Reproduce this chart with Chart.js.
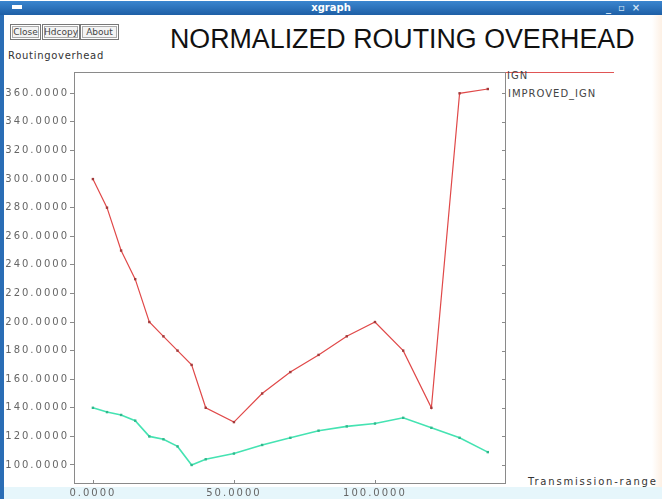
<!DOCTYPE html>
<html>
<head>
<meta charset="utf-8">
<script src="https://cdn.jsdelivr.net/npm/chart.js@4/dist/chart.umd.min.js"></script>
<style>
  html,body{margin:0;padding:0;background:#fff;width:662px;height:499px;overflow:hidden;font-family:"DejaVu Sans",sans-serif;}
  #wrap{position:relative;width:662px;height:499px;}
  .abs{position:absolute;}
  #titlebar{left:0;top:1px;width:662px;height:14px;background:linear-gradient(#3b86cf,#1e5fa6);}
  #tbtext{left:0;top:1px;width:662px;text-align:center;color:#fff;font:bold 10px "DejaVu Sans";line-height:14px;}
  #leftborder{left:0;top:15px;width:4px;height:484px;background:#2a6db5;}
  #rightedge{left:652px;top:15px;width:10px;height:484px;background:linear-gradient(90deg,#fff,#fdf0e4);}
  #bottomband{left:4px;top:487px;width:658px;height:12px;background:#e6f6fb;}
  .btn{top:24px;height:14px;border:1px solid #777;box-shadow:inset 0 0 0 1px #fff,inset 0 0 0 2px #aaa;background:#f4f4f4;font:9px "DejaVu Sans";line-height:14px;color:#444;text-align:center;}
  #title{left:170px;top:24px;font:26.8px "Liberation Sans",Arial,sans-serif;color:#111;white-space:nowrap;line-height:30px;}
  #ylab{left:8px;top:50px;font:10px "DejaVu Sans";letter-spacing:0.7px;color:#333;white-space:nowrap;}
  #xlab{left:528px;top:476px;font:10px "DejaVu Sans";letter-spacing:1.8px;color:#333;white-space:nowrap;}
  .leg{font:10px "DejaVu Sans";letter-spacing:1px;color:#444;white-space:nowrap;}
  canvas{position:absolute;left:0;top:0;}
</style>
</head>
<body>
<div id="wrap">
  <div class="abs" id="titlebar"></div>
  <div class="abs" style="left:12px;top:5px;width:10px;height:4px;background:#fff;"></div>
  <div class="abs" id="tbtext">xgraph</div>
  <div class="abs" style="left:606px;top:1px;color:#cfe3f5;font:bold 10px 'DejaVu Sans';line-height:14px;">_&nbsp;&nbsp;▫&nbsp;&nbsp;×</div>
  <div class="abs" id="leftborder"></div>
  <div class="abs" id="rightedge"></div>
  <div class="abs" id="bottomband"></div>
  <div class="abs btn" style="left:10px;width:29px;">Close</div>
  <div class="abs btn" style="left:42px;width:36px;">Hdcopy</div>
  <div class="abs btn" style="left:80px;width:37px;">About</div>
  <div class="abs" id="title">NORMALIZED ROUTING OVERHEAD</div>
  <div class="abs" id="ylab">Routingoverhead</div>
  <div class="abs" id="xlab">Transmission-range</div>
  <div class="abs" style="left:505px;top:72px;width:109px;height:1px;background:#e05555;"></div>
  <div class="abs leg" style="left:507px;top:70px;">IGN</div>
  <div class="abs leg" style="left:508px;top:88px;">IMPROVED_IGN</div>
  <canvas id="c" width="662" height="499"></canvas>
</div>
<script>
const seriesNames = ["IGN", "IMPROVED_IGN"];
const transmissionRange = [0, 5, 10, 15, 20, 25, 30, 35, 40, 50, 60, 70, 80, 90, 100, 110, 120, 130, 140];
const ignOverhead = [300, 280, 250, 230, 200, 190, 180, 170, 140, 130, 150, 165, 177, 190, 200, 180, 140, 360, 363];
const improvedIgnOverhead = [140, 137, 135, 131, 120, 118, 113, 100, 104, 108, 114, 119, 124, 127, 129, 133, 126, 119, 109];
const xTickValues = [0, 50, 100];
const yTickValues = [100, 120, 140, 160, 180, 200, 220, 240, 260, 280, 300, 320, 340, 360];

const pts = (xs, ys) => xs.map((x, i) => ({x: x, y: ys[i]}));

const spacing = {
  id: 'spacing',
  beforeLayout(chart){ chart.ctx.letterSpacing = '2px'; },
  beforeDraw(chart){ chart.ctx.letterSpacing = '2px'; }
};
const frame = {
  id: 'frame',
  afterDraw(chart){
    const a = chart.chartArea, ctx = chart.ctx;
    ctx.save();
    ctx.strokeStyle = '#8a8a8a';
    ctx.lineWidth = 1;
    ctx.beginPath();
    ctx.moveTo(a.left, a.top + 0.5);
    ctx.lineTo(a.right + 0.5, a.top + 0.5);
    ctx.lineTo(a.right + 0.5, a.bottom);
    ctx.stroke();
    const ys = chart.scales.y;
    ctx.beginPath();
    yTickValues.forEach(v => {
      const p = Math.round(ys.getPixelForValue(v)) + 0.5;
      ctx.moveTo(a.right - 3, p); ctx.lineTo(a.right, p);
    });
    const xs = chart.scales.x;
    xTickValues.forEach(v => {
      const p = Math.round(xs.getPixelForValue(v)) + 0.5;
      ctx.moveTo(p, a.bottom); ctx.lineTo(p, a.bottom - 3);
    });
    ctx.stroke();
    ctx.restore();
  }
};

new Chart(document.getElementById('c'), {
  type: 'line',
  data: {
    datasets: [
      {
        label: seriesNames[0],
        data: pts(transmissionRange, ignOverhead),
        borderColor: '#e04848',
        borderWidth: 1.2,
        pointStyle: 'rect',
        pointRadius: 1.7,
        pointBackgroundColor: '#a33a3a',
        pointBorderColor: '#a33a3a',
        pointBorderWidth: 0,
        tension: 0,
        fill: false
      },
      {
        label: seriesNames[1],
        data: pts(transmissionRange, improvedIgnOverhead),
        borderColor: '#45e3b2',
        borderWidth: 1.6,
        pointStyle: 'rect',
        pointRadius: 1.7,
        pointBackgroundColor: '#2fb98c',
        pointBorderColor: '#2fb98c',
        pointBorderWidth: 0,
        tension: 0,
        fill: false
      }
    ]
  },
  options: {
    responsive: false,
    animation: false,
    devicePixelRatio: 1,
    layout: { padding: { left: 0, right: 157, top: 72, bottom: 0 } },
    plugins: { legend: { display: false }, tooltip: { enabled: false }, title: { display: false } },
    scales: {
      x: {
        type: 'linear',
        min: -6.7,
        max: 146.1,
        afterBuildTicks(s){ s.ticks = xTickValues.map(v => ({value: v})); },
        afterFit(s){ s.height = 16; },
        grid: { drawOnChartArea: false, drawTicks: false },
        border: { display: true, color: '#8a8a8a', width: 1 },
        ticks: {
          color: '#666',
          font: { family: 'DejaVu Sans', size: 10 },
          padding: 4,
          maxRotation: 0,
          callback: v => v.toFixed(4)
        }
      },
      y: {
        type: 'linear',
        min: 87.4,
        max: 374.9,
        afterBuildTicks(s){ s.ticks = yTickValues.map(v => ({value: v})); },
        afterFit(s){ s.width = 74; },
        grid: { drawOnChartArea: false, drawTicks: true, tickLength: 4, color: '#8a8a8a' },
        border: { display: true, color: '#8a8a8a', width: 1 },
        ticks: {
          color: '#666',
          font: { family: 'DejaVu Sans', size: 10 },
          padding: 1,
          callback: v => v.toFixed(4)
        }
      }
    }
  },
  plugins: [spacing, frame]
});
</script>
</body>
</html>
